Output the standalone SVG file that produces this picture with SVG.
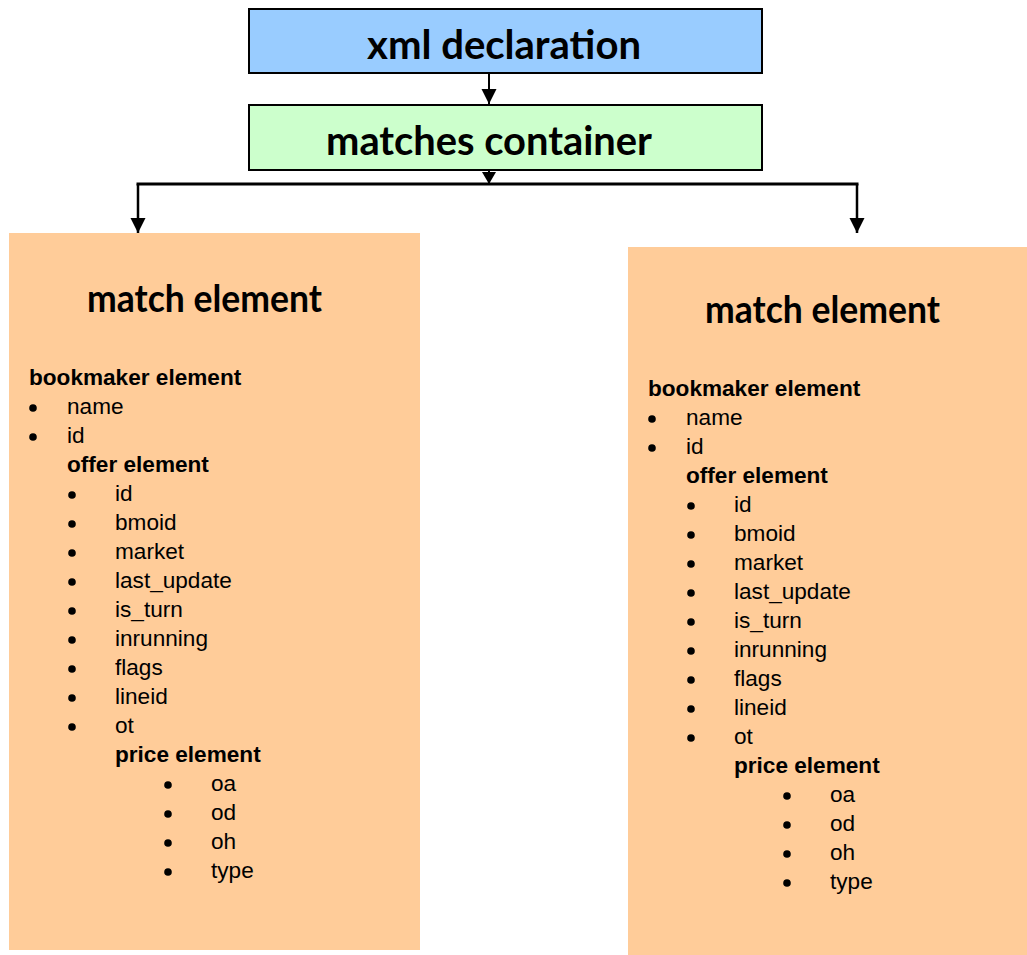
<svg xmlns="http://www.w3.org/2000/svg" width="1027" height="955" viewBox="0 0 1027 955">
<defs>
<marker id="arr" markerUnits="userSpaceOnUse" markerWidth="16" markerHeight="16" refX="15" refY="7.5" orient="auto" viewBox="0 0 16 16">
<path d="M0,0 L15,7.5 L0,15 Z" fill="#000"/>
</marker>
<marker id="arrs" markerUnits="userSpaceOnUse" markerWidth="14" markerHeight="14" refX="12" refY="7" orient="auto" viewBox="0 0 14 14">
<path d="M0,0 L12,7 L0,14 Z" fill="#000"/>
</marker>
</defs>
<style>
.box{stroke:#000;stroke-width:2}
.title{font-family:Lato,"Open Sans","Liberation Sans",sans-serif;font-weight:700;fill:#000}
.t{font-family:"Liberation Sans",Arial,sans-serif;font-size:22.6px;fill:#000}
.b{font-weight:700}
.dot{fill:#000}
.conn{stroke:#000;fill:none}
</style>
<rect width="1027" height="955" fill="#fff"/>
<g id="xml-declaration">
<rect class="box" x="249" y="9" width="513" height="64" fill="#99CCFF"/>
<text class="title" x="367" y="59" font-size="40" textLength="274" lengthAdjust="spacingAndGlyphs">xml declaration</text>
</g>
<g id="matches-container">
<rect class="box" x="249" y="105" width="513" height="65" fill="#CCFFCC"/>
<text class="title" x="326" y="155" font-size="40" textLength="326" lengthAdjust="spacingAndGlyphs">matches container</text>
</g>
<g id="match-element-left">
<rect x="9" y="233" width="411" height="717" fill="#FFCC99"/>
<text class="title" x="87" y="312" font-size="38" textLength="235" lengthAdjust="spacingAndGlyphs">match element</text>
<g class="t">
<text class="b" x="29" y="385">bookmaker element</text>
<circle class="dot" cx="33" cy="408" r="3.8"/><text x="67" y="414">name</text>
<circle class="dot" cx="33" cy="437" r="3.8"/><text x="67" y="443">id</text>
<text class="b" x="67" y="472">offer element</text>
<circle class="dot" cx="72" cy="495" r="3.8"/><text x="115" y="501">id</text>
<circle class="dot" cx="72" cy="524" r="3.8"/><text x="115" y="530">bmoid</text>
<circle class="dot" cx="72" cy="553" r="3.8"/><text x="115" y="559">market</text>
<circle class="dot" cx="72" cy="582" r="3.8"/><text x="115" y="588">last_update</text>
<circle class="dot" cx="72" cy="611" r="3.8"/><text x="115" y="617">is_turn</text>
<circle class="dot" cx="72" cy="640" r="3.8"/><text x="115" y="646">inrunning</text>
<circle class="dot" cx="72" cy="669" r="3.8"/><text x="115" y="675">flags</text>
<circle class="dot" cx="72" cy="698" r="3.8"/><text x="115" y="704">lineid</text>
<circle class="dot" cx="72" cy="727" r="3.8"/><text x="115" y="733">ot</text>
<text class="b" x="115" y="762">price element</text>
<circle class="dot" cx="168" cy="785" r="3.8"/><text x="211" y="791">oa</text>
<circle class="dot" cx="168" cy="814" r="3.8"/><text x="211" y="820">od</text>
<circle class="dot" cx="168" cy="843" r="3.8"/><text x="211" y="849">oh</text>
<circle class="dot" cx="168" cy="872" r="3.8"/><text x="211" y="878">type</text>
</g>
</g>
<g id="match-element-right">
<rect x="628" y="247" width="399" height="708" fill="#FFCC99"/>
<text class="title" x="705" y="323" font-size="38" textLength="235" lengthAdjust="spacingAndGlyphs">match element</text>
<g class="t" transform="translate(619,11)">
<text class="b" x="29" y="385">bookmaker element</text>
<circle class="dot" cx="33" cy="408" r="3.8"/><text x="67" y="414">name</text>
<circle class="dot" cx="33" cy="437" r="3.8"/><text x="67" y="443">id</text>
<text class="b" x="67" y="472">offer element</text>
<circle class="dot" cx="72" cy="495" r="3.8"/><text x="115" y="501">id</text>
<circle class="dot" cx="72" cy="524" r="3.8"/><text x="115" y="530">bmoid</text>
<circle class="dot" cx="72" cy="553" r="3.8"/><text x="115" y="559">market</text>
<circle class="dot" cx="72" cy="582" r="3.8"/><text x="115" y="588">last_update</text>
<circle class="dot" cx="72" cy="611" r="3.8"/><text x="115" y="617">is_turn</text>
<circle class="dot" cx="72" cy="640" r="3.8"/><text x="115" y="646">inrunning</text>
<circle class="dot" cx="72" cy="669" r="3.8"/><text x="115" y="675">flags</text>
<circle class="dot" cx="72" cy="698" r="3.8"/><text x="115" y="704">lineid</text>
<circle class="dot" cx="72" cy="727" r="3.8"/><text x="115" y="733">ot</text>
<text class="b" x="115" y="762">price element</text>
<circle class="dot" cx="168" cy="785" r="3.8"/><text x="211" y="791">oa</text>
<circle class="dot" cx="168" cy="814" r="3.8"/><text x="211" y="820">od</text>
<circle class="dot" cx="168" cy="843" r="3.8"/><text x="211" y="849">oh</text>
<circle class="dot" cx="168" cy="872" r="3.8"/><text x="211" y="878">type</text>
</g>
</g>
<g id="connectors">
<path class="conn" stroke-width="2" d="M489,74 L489,104" marker-end="url(#arr)"/>
<path class="conn" stroke-width="2" d="M489,171 L489,184" marker-end="url(#arrs)"/>
<path class="conn" stroke-width="3" d="M136.5,184 L858.5,184"/>
<path class="conn" stroke-width="2.5" d="M138,184 L138,233" marker-end="url(#arr)"/>
<path class="conn" stroke-width="2.5" d="M857,184 L857,233" marker-end="url(#arr)"/>
</g>
</svg>
